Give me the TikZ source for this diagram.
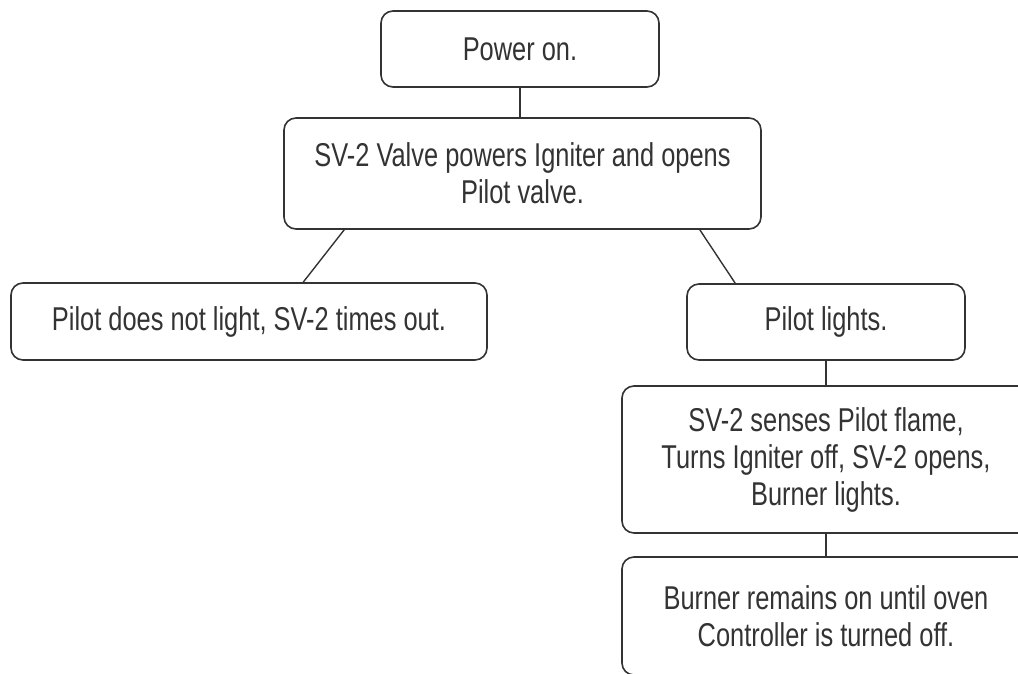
\documentclass[tikz,border=0pt]{standalone}
\usepackage{fontspec}
\setmainfont{Liberation Sans}[FakeStretch=0.77]
\usepackage{tikz}
\usetikzlibrary{positioning}
\definecolor{inkgray}{HTML}{333333}
\tikzset{
  stepbox/.style={draw=inkgray, line width=1.6pt, rounded corners=12pt, align=center,
    text=inkgray, font=\fontsize{33}{37}\selectfont},
  link/.style={draw=inkgray, line width=1.4pt}
}

\begin{document}
\begin{tikzpicture}[x=1pt, y=-1pt]
    \clip (0,0) rectangle (1018,673);

    % Start and ignition
    \node[stepbox, minimum width=278pt, minimum height=76pt] (power) at (520,49) {Power on.};
    \node[stepbox, minimum width=477pt, minimum height=111pt] (valve) at (522.5,173.5)
        {SV-2 Valve powers Igniter and opens\\Pilot valve.};

    % Two outcomes
    \node[stepbox, minimum width=476pt, minimum height=77pt] (nofire) at (249,321.5)
        {Pilot does not light, SV-2 times out.};
    \node[stepbox, minimum width=278pt, minimum height=76pt] (lit) at (826,322) {Pilot lights.};

    % Right branch goes on
    \node[stepbox, minimum width=408pt, minimum height=147pt] (senses) at (826,459.5)
        {SV-2 senses Pilot flame,\\Turns Igniter off, SV-2 opens,\\Burner lights.};
    \node[stepbox, minimum width=408pt, minimum height=118pt] (burner) at (826,616)
        {Burner remains on until oven\\Controller is turned off.};

    % Connectors
    \draw[link] (power.south) -- (power.south |- valve.north);
    \draw[link] ([xshift=61pt]valve.south west) -- ([xshift=293pt]nofire.north west);
    \draw[link] ([xshift=-62pt]valve.south east) -- ([xshift=49pt]lit.north west);
    \draw[link] (lit.south) -- (senses.north);
    \draw[link] (senses.south) -- (burner.north);
\end{tikzpicture}
\end{document}
